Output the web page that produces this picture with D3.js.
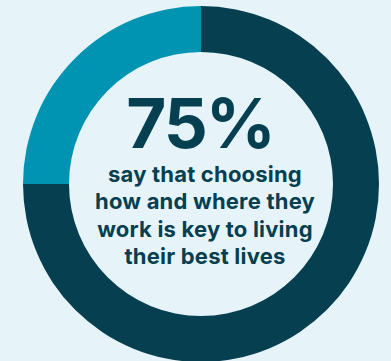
<!DOCTYPE html>
<html lang="en">
<head>
    <meta charset="UTF-8">
    <title>75% donut</title>
    <script src="https://d3js.org/d3.v7.min.js"></script>
    <style>
        html, body { margin: 0; padding: 0; background: #e6f4fa; }
        svg { display: block; }
        .big { font-family: "Inter", sans-serif; font-weight: 700; }
        .caption { font-family: "Inter", sans-serif; font-weight: 700; }
    </style>
</head>
<body>
    <svg width="391" height="361"></svg>
    <script>
        // data
        const labels = ["key to living best lives", "other"];
        const values = [75, 25];
        const colors = ["#053f50", "#0093b2"];
        const headline = "75%";
        const captionLines = ["say that choosing", "how and where they", "work is key to living", "their best lives"];

        let svg = d3.select("svg");
        const cx = 201, cy = 184;
        const outer = 178, inner = 132;

        const pie = d3.pie().sort(null).value(d => d);
        const arc = d3.arc().innerRadius(inner).outerRadius(outer);

        let g = svg.append("g").attr("transform", `translate(${cx},${cy})`);

        g.selectAll("path")
            .data(pie(values))
            .enter()
            .append("path")
            .attr("d", arc)
            .attr("fill", (d, i) => colors[i]);

        // center text
        g.append("text")
            .attr("class", "big")
            .attr("text-anchor", "middle")
            .attr("x", -1)
            .attr("y", -36)
            .attr("font-size", 69)
            .attr("letter-spacing", -2)
            .attr("fill", "#053f50")
            .text(headline);

        g.selectAll("text.caption")
            .data(captionLines)
            .enter()
            .append("text")
            .attr("class", "caption")
            .attr("text-anchor", "middle")
            .attr("x", 4)
            .attr("y", (d, i) => -2.5 + i * 27.5)
            .attr("font-size", 22)
            .attr("letter-spacing", 0.2)
            .attr("fill", "#053f50")
            .text(d => d);
    </script>
</body>
</html>
